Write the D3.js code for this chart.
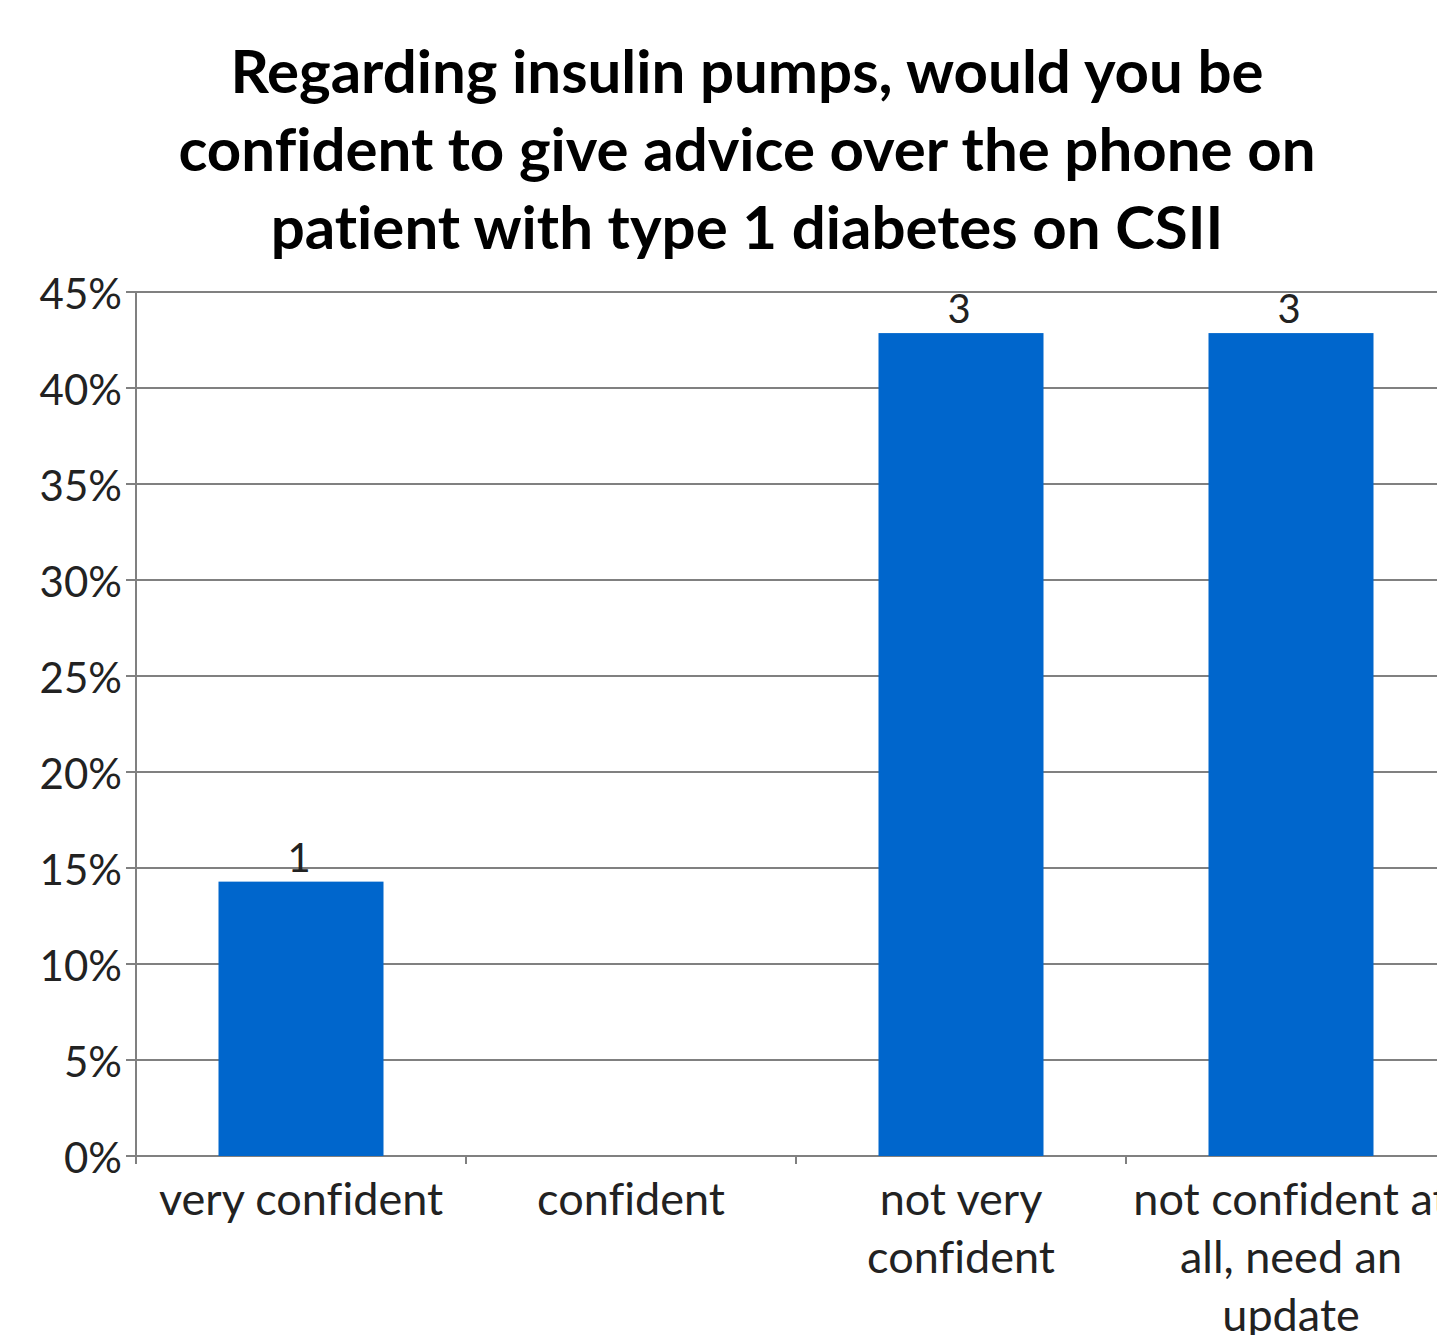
<!DOCTYPE html>
<html><head><meta charset="utf-8">
<script src="https://cdn.jsdelivr.net/npm/d3@7"></script>
<style>body{margin:0;background:#fff}svg{display:block}text{font-variant-ligatures:none;font-feature-settings:"liga" 0}</style>
</head><body>
<script>
const titleLines = ["Regarding insulin pumps, would you be","confident to give advice over the phone on","patient with type 1 diabetes on CSII"];
const categories = ["very confident","confident","not very confident","not confident at all, need an update"];
const categoryLines = [["very confident"],["confident"],["not very","confident"],["not confident at","all, need an","update"]];
const counts = [1,0,3,3];
const percents = [14.29,0,42.86,42.86];
const yTicks = [0,5,10,15,20,25,30,35,40,45];

const W=1437,H=1335;
const font="Lato, 'Open Sans', sans-serif";
const pLeft=136, pTop=292, pBottom=1156, pRight=1456;
const svg=d3.select("body").append("svg").attr("width",W).attr("height",H);

const x=d3.scaleBand().domain(categories).range([pLeft,pRight]).padding(0);
const y=d3.scaleLinear().domain([0,45]).range([pBottom,pTop]);

// title
svg.append("g").selectAll("text").data(titleLines).join("text")
 .attr("x",747).attr("y",(d,i)=>93+i*78).attr("text-anchor","middle")
 .attr("font-family",font).attr("font-weight","bold").attr("font-size",60).attr("fill","#000").text(d=>d);

// grid
const gc="#808080";
svg.append("g").selectAll("line").data(yTicks).join("line")
 .attr("x1",pLeft-10).attr("x2",pRight).attr("y1",d=>y(d)).attr("y2",d=>y(d))
 .attr("stroke",gc).attr("stroke-width",2);
// y axis line
svg.append("line").attr("x1",pLeft).attr("x2",pLeft).attr("y1",pTop).attr("y2",pBottom+8).attr("stroke",gc).attr("stroke-width",2);
// x ticks
svg.append("g").selectAll("line").data(categories).join("line")
 .attr("x1",d=>x(d)).attr("x2",d=>x(d)).attr("y1",pBottom).attr("y2",pBottom+8).attr("stroke",gc).attr("stroke-width",2);

// y labels
svg.append("g").selectAll("text").data(yTicks).join("text")
 .attr("x",122).attr("y",d=>y(d)+17).attr("text-anchor","end")
 .attr("font-family",font).attr("font-size",42).attr("fill","#222").text(d=>d+"%");

// bars
const bw=x.bandwidth()*0.5;
svg.append("g").selectAll("rect").data(categories).join("rect")
 .attr("x",d=>x(d)+x.bandwidth()/2-bw/2).attr("width",bw)
 .attr("y",(d,i)=>y(percents[i])).attr("height",(d,i)=>y(0)-y(percents[i]))
 .attr("fill","#0066CC");

// data labels
svg.append("g").selectAll("text").data(categories.filter((d,i)=>counts[i]>0)).join("text")
 .attr("x",d=>x(d)+x.bandwidth()/2-2).attr("y",d=>{const i=categories.indexOf(d);return y(percents[i])-10;})
 .attr("text-anchor","middle").attr("font-family",font).attr("font-size",40).attr("fill","#222")
 .text(d=>counts[categories.indexOf(d)]);

// category labels
const cg=svg.append("g");
categories.forEach((c,i)=>{
  categoryLines[i].forEach((ln,j)=>{
    cg.append("text").attr("x",x(c)+x.bandwidth()/2).attr("y",1215+j*58).attr("text-anchor","middle")
      .attr("font-family",font).attr("font-size",45).attr("fill","#222").text(ln);
  });
});
</script>
</body></html>
